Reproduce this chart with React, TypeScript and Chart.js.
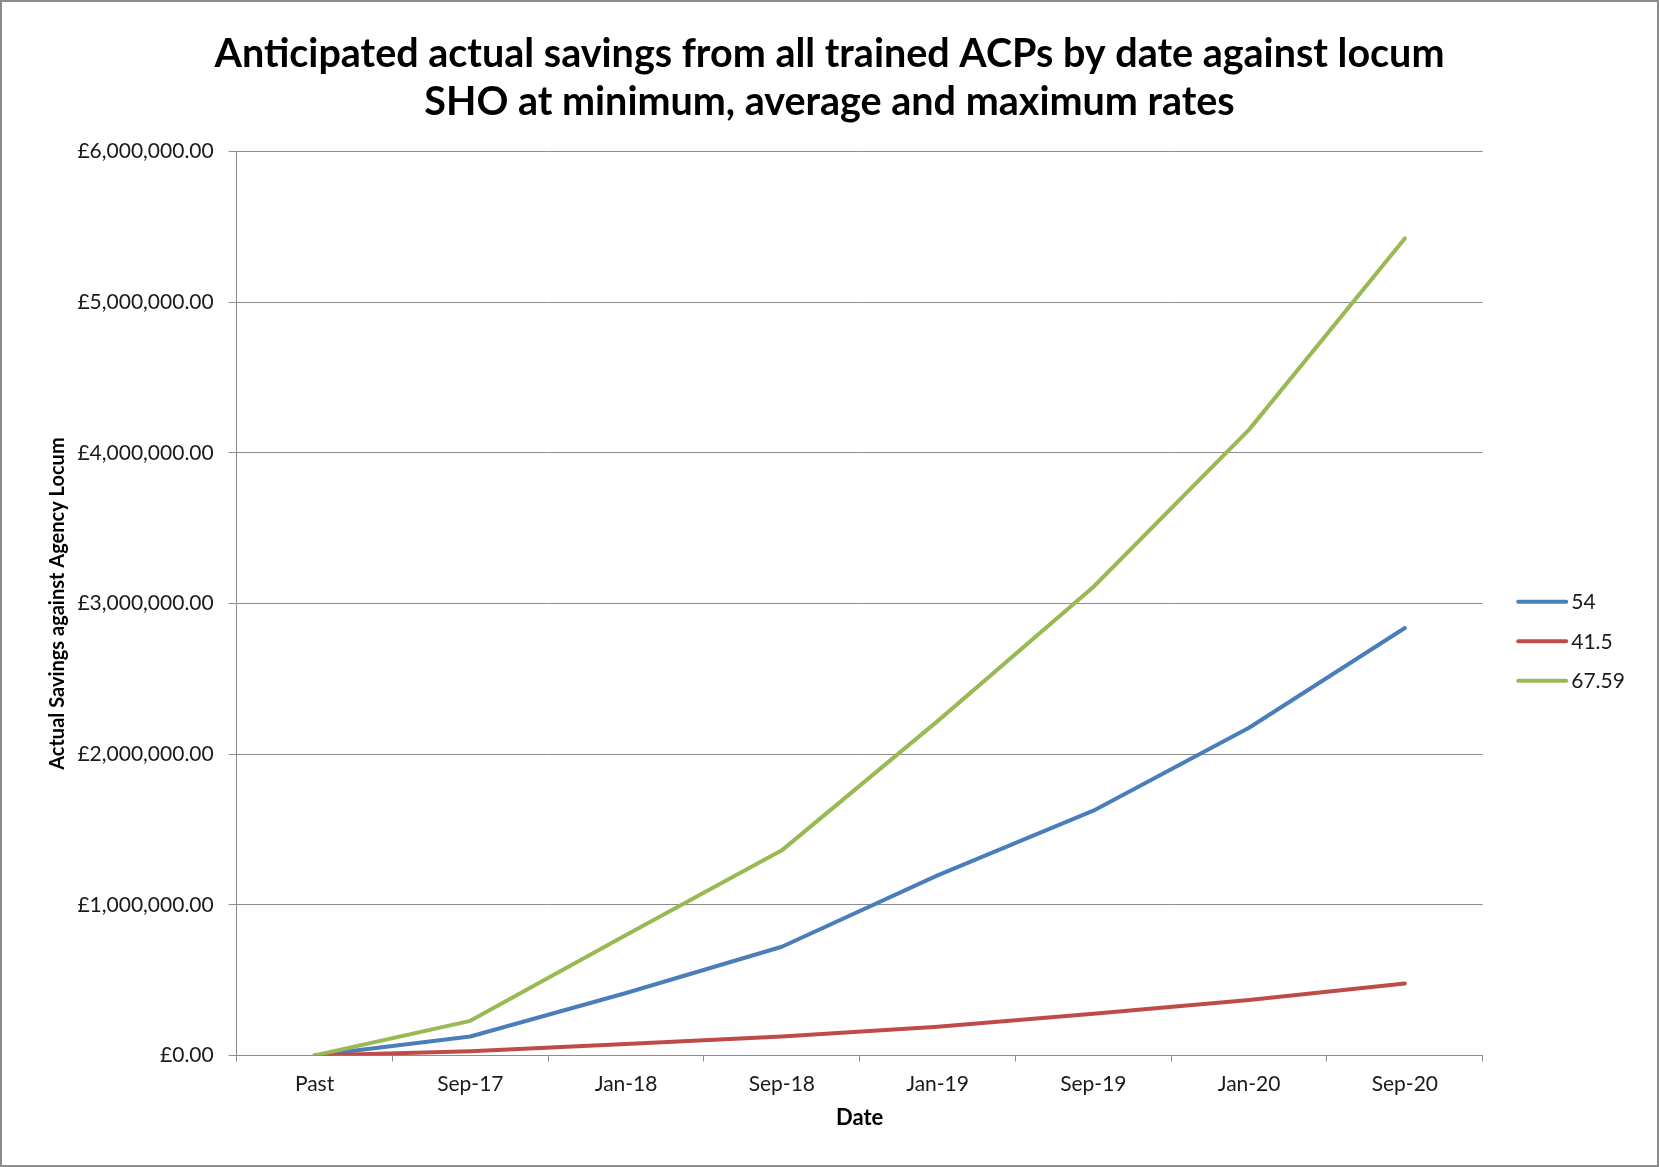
import React, { useEffect, useRef } from 'react';
import { Chart, registerables } from 'chart.js';

Chart.register(...registerables);

const categories = ['Past', 'Sep-17', 'Jan-18', 'Sep-18', 'Jan-19', 'Sep-19', 'Jan-20', 'Sep-20'];
const seriesLabels = ['54', '41.5', '67.59'];
const savingsAt54 = [0, 126000, 415000, 722000, 1196000, 1625000, 2176000, 2838000];
const savingsAt41_5 = [0, 29000, 77000, 126000, 191000, 277000, 368000, 478000];
const savingsAt67_59 = [0, 230000, 800000, 1362000, 2220000, 3110000, 4155000, 5424000];
const seriesColors = ['#4A7EBB', '#BE4B48', '#98B954'];
const yMin = 0;
const yMax = 6000000;
const yStep = 1000000;

const titleLines = [
  'Anticipated actual savings from all trained ACPs by date against locum',
  'SHO at minimum, average and maximum rates',
];
const yTitle = 'Actual Savings against Agency Locum';
const xTitle = 'Date';

const FONT = 'Lato, "Open Sans", "DejaVu Sans", sans-serif';

function formatPounds(v: number): string {
  const fixed = Math.abs(v).toFixed(2);
  const [intPart, dec] = fixed.split('.');
  const withCommas = intPart.replace(/\B(?=(\d{3})+(?!\d))/g, ',');
  return '£' + withCommas + '.' + dec;
}

const titlePlugin = {
  id: 'centeredTitle',
  afterDraw(chart: any) {
    const { ctx, width } = chart;
    ctx.save();
    ctx.fillStyle = '#000';
    ctx.font = `bold 39.5px ${FONT}`;
    ctx.textAlign = 'center';
    ctx.textBaseline = 'middle';
    titleLines.forEach((line, i) => {
      ctx.fillText(line, width / 2, 54 + i * 48.5);
    });
    ctx.restore();
  },
};

const legendPlugin = {
  id: 'sideLegend',
  afterDraw(chart: any) {
    const { ctx, chartArea } = chart;
    const x0 = chartArea.right + 35.5;
    const lineLen = 48;
    const y0 = chartArea.top + 450;
    const gap = 39.5;
    ctx.save();
    chart.data.datasets.forEach((ds: any, i: number) => {
      const y = y0 + i * gap;
      ctx.strokeStyle = ds.borderColor;
      ctx.lineWidth = 4;
      ctx.lineCap = 'round';
      ctx.beginPath();
      ctx.moveTo(x0, y);
      ctx.lineTo(x0 + lineLen, y);
      ctx.stroke();
      ctx.fillStyle = '#1a1a1a';
      ctx.font = `21px ${FONT}`;
      ctx.textAlign = 'left';
      ctx.textBaseline = 'middle';
      ctx.fillText(ds.label, x0 + lineLen + 5, y + 1);
    });
    ctx.restore();
  },
};

export default function App() {
  const canvasRef = useRef<HTMLCanvasElement>(null);

  useEffect(() => {
    document.body.style.margin = '0';
    const canvas = canvasRef.current;
    if (!canvas) return;
    const data = [savingsAt54, savingsAt41_5, savingsAt67_59];
    const orders = [2, 1, 0];
    const chart = new Chart(canvas, {
      type: 'line',
      data: {
        labels: categories,
        datasets: data.map((d, i) => ({
          label: seriesLabels[i],
          data: d,
          borderColor: seriesColors[i],
          backgroundColor: seriesColors[i],
          borderWidth: 4,
          pointRadius: 0,
          pointHoverRadius: 0,
          tension: 0,
          fill: false,
          borderJoinStyle: 'round',
          borderCapStyle: 'round',
          order: orders[i],
        })),
      },
      options: {
        responsive: false,
        animation: false,
        devicePixelRatio: 1,
        layout: { padding: { left: 0, right: 176.3, top: 151.7, bottom: 0 } },
        plugins: {
          legend: { display: false },
          tooltip: { enabled: false },
          title: { display: false },
        },
        scales: {
          x: {
            type: 'category',
            offset: true,
            grid: {
              offset: true,
              drawOnChartArea: false,
              drawTicks: true,
              tickLength: 6,
              color: '#8c8c8c',
              lineWidth: 1,
            },
            border: { display: true, color: '#8c8c8c', width: 1 },
            ticks: {
              color: '#1a1a1a',
              font: { family: FONT, size: 21 },
              padding: 10,
              maxRotation: 0,
              autoSkip: false,
            },
            title: {
              display: true,
              text: xTitle,
              color: '#000',
              font: { family: FONT, size: 22, weight: 'bold', lineHeight: 1.2 },
              padding: { top: 0, bottom: 36 },
            },
            afterFit(scale: any) {
              scale.height = 1167 - 1055.5;
            },
          },
          y: {
            min: yMin,
            max: yMax,
            grid: {
              drawOnChartArea: true,
              drawTicks: true,
              tickLength: 8,
              color: '#8c8c8c',
              lineWidth: 1,
            },
            border: { display: true, color: '#8c8c8c', width: 1 },
            ticks: {
              stepSize: yStep,
              color: '#1a1a1a',
              font: { family: FONT, size: 21 },
              padding: 15,
              callback: (v: any) => formatPounds(Number(v)),
            },
            title: {
              display: true,
              text: yTitle,
              color: '#000',
              font: { family: FONT, size: 20, weight: 'bold', lineHeight: 1.2 },
              padding: { top: 46, bottom: 0 },
            },
            afterFit(scale: any) {
              scale.width = 236.7;
            },
          },
        },
      },
      plugins: [titlePlugin, legendPlugin],
    });
    return () => chart.destroy();
  }, []);

  return (
    <div style={{ position: 'relative', width: 1659, height: 1167, background: '#fff' }}>
      <canvas
        ref={canvasRef}
        width={1659}
        height={1167}
        style={{ display: 'block', width: 1659, height: 1167 }}
      />
      <div
        style={{
          position: 'absolute',
          left: 0,
          top: 0,
          width: 1659,
          height: 1167,
          border: '2px solid #8c8c8c',
          boxSizing: 'border-box',
          pointerEvents: 'none',
        }}
      />
    </div>
  );
}
